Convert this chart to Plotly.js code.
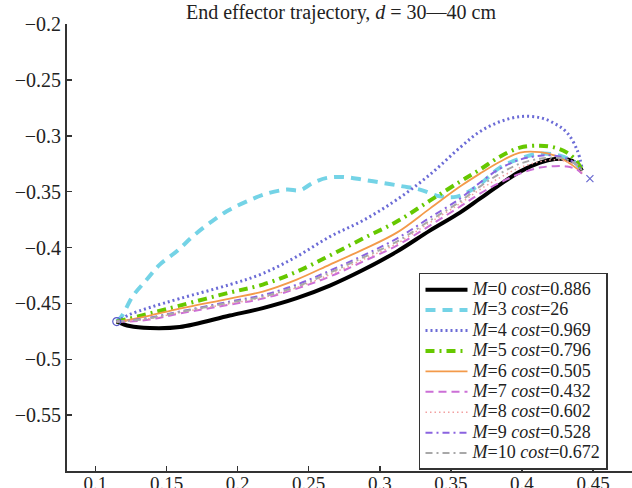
<!DOCTYPE html>
<html>
<head>
<meta charset="utf-8">
<script src="https://cdn.plot.ly/plotly-3.0.1.min.js"></script>
<style>html,body{margin:0;padding:0;background:#fff;}#chart{width:632px;height:488px;}</style>
</head>
<body>
<div id="chart"></div>
<script>
// x positions shared by the trajectories M=0, 4..10
const xGrid = [0.1150,0.1241,0.1382,0.1593,0.1945,0.2177,0.2416,0.2649,0.2881,0.3120,0.3352,0.3564,0.3704,0.3845,0.3986,0.4127,0.4232,0.4317,0.4387,0.4422];
const yM0  = [-0.4663,-0.4703,-0.4721,-0.4712,-0.4609,-0.4542,-0.4453,-0.4341,-0.4202,-0.4037,-0.3849,-0.3688,-0.3563,-0.3437,-0.3321,-0.3241,-0.3209,-0.3209,-0.3250,-0.3312];
const yM4  = [-0.4663,-0.4600,-0.4537,-0.4457,-0.4332,-0.4233,-0.4081,-0.3903,-0.3759,-0.3572,-0.3348,-0.3106,-0.2963,-0.2874,-0.2829,-0.2838,-0.2892,-0.2972,-0.3124,-0.3285];
const yM5  = [-0.4663,-0.4636,-0.4591,-0.4520,-0.4403,-0.4332,-0.4216,-0.4072,-0.3920,-0.3768,-0.3581,-0.3411,-0.3303,-0.3187,-0.3106,-0.3089,-0.3106,-0.3151,-0.3232,-0.3312];
const yM6  = [-0.4663,-0.4645,-0.4609,-0.4547,-0.4457,-0.4394,-0.4287,-0.4153,-0.4019,-0.3867,-0.3652,-0.3455,-0.3339,-0.3232,-0.3151,-0.3147,-0.3178,-0.3232,-0.3294,-0.3339];
const yM7  = [-0.4663,-0.4663,-0.4645,-0.4591,-0.4511,-0.4457,-0.4368,-0.4260,-0.4126,-0.3983,-0.3804,-0.3634,-0.3518,-0.3420,-0.3339,-0.3285,-0.3272,-0.3276,-0.3303,-0.3339];
const yM8  = [-0.4663,-0.4658,-0.4636,-0.4582,-0.4502,-0.4448,-0.4359,-0.4242,-0.4108,-0.3965,-0.3777,-0.3607,-0.3482,-0.3375,-0.3285,-0.3232,-0.3214,-0.3232,-0.3268,-0.3321];
const yM9  = [-0.4663,-0.4654,-0.4627,-0.4573,-0.4484,-0.4426,-0.4332,-0.4207,-0.4072,-0.3920,-0.3733,-0.3563,-0.3420,-0.3294,-0.3214,-0.3178,-0.3178,-0.3205,-0.3258,-0.3312];
const yM10 = [-0.4663,-0.4654,-0.4632,-0.4578,-0.4493,-0.4439,-0.4350,-0.4225,-0.4090,-0.3947,-0.3759,-0.3589,-0.3455,-0.3339,-0.3250,-0.3205,-0.3196,-0.3214,-0.3258,-0.3312];
// M=3 has its own x positions
const xM3 = [0.1150,0.1185,0.1262,0.1361,0.1452,0.1572,0.1685,0.1804,0.1924,0.2065,0.2205,0.2346,0.2438,0.2529,0.2628,0.2740,0.2881,0.3022,0.3162,0.3282,0.3423,0.3542,0.3683,0.3775,0.3845,0.3986,0.4127,0.4267,0.4373,0.4422];
const yM3 = [-0.4663,-0.4615,-0.4437,-0.4287,-0.4153,-0.4034,-0.3900,-0.3780,-0.3676,-0.3587,-0.3518,-0.3482,-0.3488,-0.3422,-0.3377,-0.3369,-0.3393,-0.3422,-0.3453,-0.3482,-0.3542,-0.3545,-0.3455,-0.3357,-0.3285,-0.3205,-0.3160,-0.3178,-0.3241,-0.3312];
// start and target markers
const startX = [0.1150], startY = [-0.4663];
const targetX = [0.4478], targetY = [-0.3384];
// legend labels
const mValues = [0, 3, 4, 5, 6, 7, 8, 9, 10];
const costs = ['0.886', '26', '0.969', '0.796', '0.505', '0.432', '0.602', '0.528', '0.672'];
// tick labels
const xTickVals = [0.1, 0.15, 0.2, 0.25, 0.3, 0.35, 0.4, 0.45];
const xTickText = ['0.1', '0.15', '0.2', '0.25', '0.3', '0.35', '0.4', '0.45'];
const yTickVals = [-0.55, -0.5, -0.45, -0.4, -0.35, -0.3, -0.25, -0.2];
const yTickText = ['\u22120.55', '\u22120.5', '\u22120.45', '\u22120.4', '\u22120.35', '\u22120.3', '\u22120.25', '\u22120.2'];

const seriesX = [xGrid, xM3, xGrid, xGrid, xGrid, xGrid, xGrid, xGrid, xGrid];
const seriesY = [yM0, yM3, yM4, yM5, yM6, yM7, yM8, yM9, yM10];
const styles = [
  {color: '#000000', width: 4, dash: 'solid'},
  {color: '#74d3e6', width: 4, dash: '10px,7px'},
  {color: '#6b6bd6', width: 3, dash: '2px,3px'},
  {color: '#66c800', width: 4, dash: '9px,5px,2px,5px'},
  {color: '#f39a4a', width: 1.8, dash: 'solid'},
  {color: '#cc6fd6', width: 2, dash: '8px,5px'},
  {color: '#f2a0a0', width: 1.5, dash: '1.5px,3px'},
  {color: '#8a63e0', width: 2, dash: '7px,4px,2px,4px'},
  {color: '#a8a8a8', width: 2, dash: '7px,4px,2px,4px'}
];

const traces = mValues.map((m, i) => ({
  type: 'scatter',
  mode: 'lines',
  x: seriesX[i],
  y: seriesY[i],
  name: '<span style="font-size:18px"><i>M</i>=' + m + ' <i>cost</i>=' + costs[i] + '</span>',
  line: {color: styles[i].color, width: styles[i].width, dash: styles[i].dash, shape: 'spline', smoothing: 1}
}));
traces.push({
  type: 'scatter', mode: 'markers', x: startX, y: startY, showlegend: false,
  marker: {symbol: 'circle-open', size: 8, color: '#5a5ac8', line: {width: 1.2}}
});
traces.push({
  type: 'scatter', mode: 'markers', x: targetX, y: targetY, showlegend: false,
  marker: {symbol: 'x-thin-open', size: 7, color: '#6a6ad0', line: {width: 1.2}}
});

const serif = 'Liberation Serif, Times New Roman, serif';
const layout = {
  width: 632, height: 488,
  margin: {l: 67, r: 0, t: 24, b: 17, pad: 0},
  paper_bgcolor: '#ffffff', plot_bgcolor: '#ffffff',
  font: {family: serif, size: 19, color: '#222'},
  title: {
    text: 'End effector trajectory, <i>d</i> = 30\u201440 cm',
    font: {family: serif, size: 20, color: '#222'},
    x: 0.485, xref: 'paper', xanchor: 'center',
    y: 0.975, yref: 'container', yanchor: 'middle'
  },
  xaxis: {
    range: [0.08, 0.4774], showgrid: false, zeroline: false,
    showline: true, linecolor: '#333', linewidth: 2, mirror: false,
    ticks: 'inside', ticklen: 5, tickwidth: 1.5, tickcolor: '#333',
    ticklabelstandoff: -6,
    tickvals: xTickVals, ticktext: xTickText,
    tickfont: {family: serif, size: 19, color: '#222'}
  },
  yaxis: {
    range: [-0.6, -0.2], showgrid: false, zeroline: false,
    showline: true, linecolor: '#333', linewidth: 2, mirror: false,
    ticks: 'inside', ticklen: 5, tickwidth: 1.5, tickcolor: '#333',
    tickvals: yTickVals, ticktext: yTickText,
    tickfont: {family: serif, size: 20, color: '#222'}
  },
  showlegend: true,
  legend: {
    x: 0.623, y: 0.443, xanchor: 'left', yanchor: 'top',
    bgcolor: '#ffffff', bordercolor: '#333', borderwidth: 1.5,
    font: {family: serif, size: 13.4, color: '#222'},
    itemwidth: 42,
    traceorder: 'normal'
  }
};

Plotly.newPlot('chart', traces, layout, {displayModeBar: false, staticPlot: true});
</script>
</body>
</html>
